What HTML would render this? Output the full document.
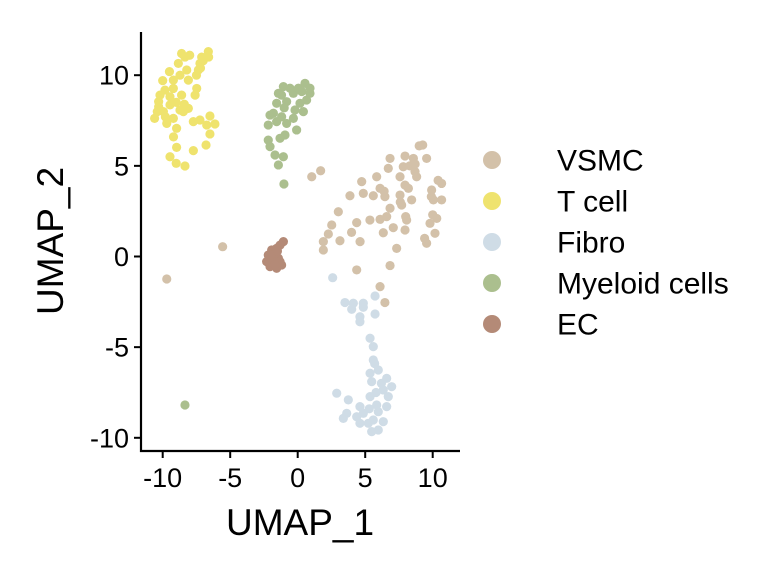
<!DOCTYPE html>
<html><head><meta charset="utf-8"><style>body{margin:0;background:#fff}svg{display:block;font-family:"Liberation Sans",sans-serif}</style></head>
<body>
<svg id="c" width="768" height="576"></svg>
<script>
const categories=["VSMC","T cell","Fibro","Myeloid cells","EC"];
const colors=["#d3c1a9","#efe36e","#cfdce6","#abbf8e","#b48a77"];
const xTicks=[-10,-5,0,5,10];
const yTicks=[10,5,0,-5,-10];
const vsmc=[[9.26,6.15],[9.55,5.41],[7.95,5.54],[8.57,5.41],[6.84,5.41],[6.71,4.86],[7.82,4.95],[8.69,4.68],[8.81,4.4],[5.85,4.4],[7.58,4.4],[4.74,4.13],[7.95,3.94],[8.2,3.76],[6.1,3.76],[10.66,4.03],[9.92,3.67],[4.86,3.48],[3.87,3.35],[5.6,3.35],[6.46,3.3],[7.58,3.39],[10.66,3.12],[10.05,3.12],[8.44,3.12],[7.7,2.84],[6.84,2.66],[3.01,2.47],[5.35,2.01],[6.1,2.05],[6.59,2.2],[8.07,2.01],[10.3,2.1],[9.8,1.83],[2.52,1.74],[4.37,1.87],[7.08,1.59],[7.95,1.46],[2.27,1.24],[3.99,1.33],[6.34,1.31],[10.17,1.28],[1.9,0.82],[3.13,0.87],[4.62,0.82],[9.55,0.73],[1.9,0.36],[7.33,0.45],[4.37,-0.74],[6.84,-0.5],[6.1,-1.66],[6.46,-2.54],[1.04,4.4],[1.7,4.73],[-5.56,0.54],[-9.7,-1.24],[8.3,5.0],[9.9,3.3],[8.0,2.2],[10.4,4.2],[7.6,3.0],[10.0,2.3],[6.4,3.6],[9.4,1.0],[9.0,6.1],[8.7,5.1]];
const tcell=[[-8.35,11.0],[-7.11,11.0],[-6.62,11.3],[-8.84,10.65],[-7.24,10.65],[-8.22,10.29],[-7.36,10.29],[-8.72,10.0],[-10.0,9.7],[-9.21,9.73],[-8.1,9.73],[-7.48,9.27],[-9.83,9.18],[-9.21,9.27],[-8.6,8.9],[-7.6,8.9],[-10.3,8.54],[-9.46,8.81],[-8.72,8.08],[-8.1,8.17],[-10.4,7.99],[-9.95,7.99],[-9.21,7.62],[-8.47,7.99],[-10.6,7.62],[-9.7,7.34],[-8.97,7.07],[-7.73,7.44],[-7.24,7.53],[-6.5,7.75],[-6.13,7.31],[-6.74,7.25],[-6.5,6.76],[-6.79,6.15],[-7.73,5.84],[-8.97,6.02],[-9.46,5.5],[-9.0,5.14],[-8.35,4.99],[-10.3,8.26],[-9.46,8.36],[-8.0,11.1],[-7.0,10.8],[-9.5,10.2],[-10.2,8.9],[-9.0,8.5],[-8.4,8.4],[-9.8,7.7],[-7.5,10.0],[-9.2,6.6],[-6.6,11.0],[-7.2,10.4],[-8.6,11.2]];
const fibro=[[2.59,-1.17],[5.73,-2.18],[3.5,-2.54],[4.12,-2.58],[4.86,-2.58],[4.0,-2.91],[4.86,-2.8],[4.61,-3.32],[5.73,-3.17],[4.61,-3.6],[5.36,-4.51],[5.6,-4.97],[5.6,-5.71],[5.36,-6.44],[5.97,-6.26],[6.59,-6.72],[6.96,-7.18],[5.48,-6.9],[6.34,-7.36],[2.89,-7.54],[3.75,-7.91],[5.36,-7.73],[6.71,-7.73],[4.61,-8.28],[5.85,-8.19],[6.59,-8.28],[3.63,-8.65],[4.86,-8.65],[5.97,-8.56],[3.38,-8.93],[4.37,-8.84],[5.6,-9.02],[6.34,-9.11],[5.23,-9.2],[5.97,-9.57],[5.48,-9.66],[4.61,-9.2],[5.7,-5.9],[6.2,-7.0],[5.8,-7.5],[5.3,-8.4]];
const myeloid=[[-1.06,9.37],[0.54,9.55],[0.91,9.0],[-1.43,9.0],[-0.32,9.0],[-0.82,8.54],[0.66,8.63],[-1.56,8.45],[0.17,8.45],[-0.2,8.08],[0.42,7.99],[-2.05,7.8],[-1.19,7.71],[-0.32,7.62],[-0.82,7.34],[-2.18,7.25],[-1.56,7.44],[-0.08,6.98],[-0.94,6.7],[-2.18,6.42],[-1.31,6.52],[-2.05,6.06],[-1.68,5.6],[-1.06,5.5],[-1.43,5.05],[-1.02,4.0],[-0.57,9.28],[0.05,9.28],[0.91,9.28],[-1.8,7.9],[-8.35,-8.19],[-1.2,8.9],[0.3,9.1],[-1.0,8.2]];
const ec=[[-1.06,0.82],[-1.31,0.63],[-1.56,0.45],[-1.93,0.36],[-2.18,0.08],[-2.3,-0.28],[-2.05,-0.56],[-1.56,-0.65],[-1.19,-0.47],[-1.43,-0.1],[-1.8,-0.19],[-2.05,-0.19],[-1.31,-0.28],[-1.68,0.17],[-1.7,-0.45],[-2.0,0.1],[-1.5,0.3]];
const series=[vsmc,tcell,fibro,myeloid,ec];
const NS="http://www.w3.org/2000/svg",svg=document.getElementById('c');
const X=v=>297.7+v*13.5, Y=v=>256.5-v*18.13;
function mk(t,a,p){const e=document.createElementNS(NS,t);for(const k in a)e.setAttribute(k,a[k]);(p||svg).appendChild(e);return e;}
const pts=mk('g',{});


series.forEach((s,i)=>s.forEach(p=>{const c=mk('circle',{cx:X(p[0]),cy:Y(p[1]),r:4.6,fill:colors[i]},pts);

}));
const ax=mk('path',{d:'M141,32V451H460',stroke:'#000','stroke-width':2.2,fill:'none'});


xTicks.forEach(t=>{mk('line',{x1:X(t),x2:X(t),y1:451,y2:458,stroke:'#000','stroke-width':2});
const l=mk('text',{x:X(t),y:487,'text-anchor':'middle','font-size':27});l.textContent=t;

});
yTicks.forEach(t=>{mk('line',{x1:134,x2:141,y1:Y(t),y2:Y(t),stroke:'#000','stroke-width':2});
const l=mk('text',{x:129,y:Y(t)+9.5,'text-anchor':'end','font-size':27});l.textContent=t;

});
const xt=mk('text',{x:300,y:535,'text-anchor':'middle','font-size':37});xt.textContent='UMAP_1';


const yt=mk('text',{x:0,y:0,'text-anchor':'middle','font-size':37,transform:'translate(63,241) rotate(-90)'});yt.textContent='UMAP_2';


categories.forEach((c,i)=>{const g=mk('g',{});


const y=160+i*41;mk('circle',{cx:492,cy:y,r:9,fill:colors[i]},g);
const t=mk('text',{x:557,y:y+10.5,'font-size':30},g);t.textContent=c;});
</script>
</body></html>
